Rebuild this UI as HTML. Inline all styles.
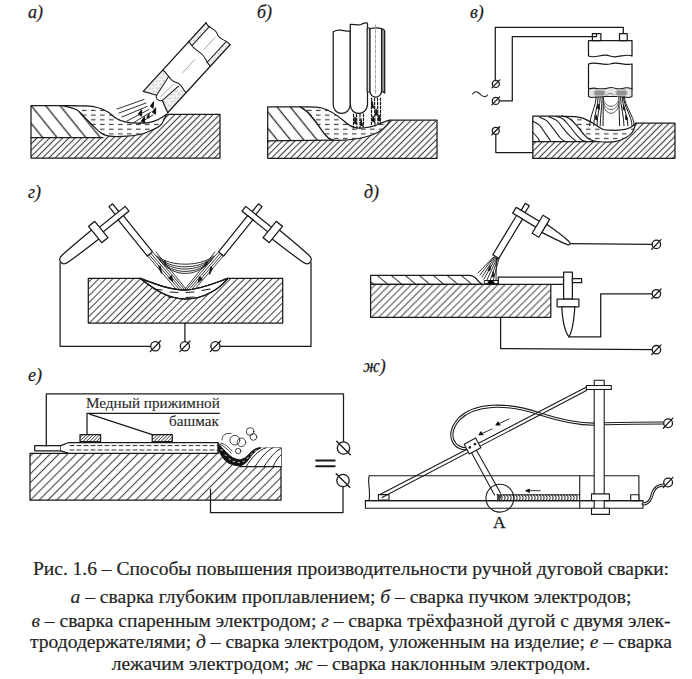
<!DOCTYPE html>
<html><head><meta charset="utf-8"><style>
html,body{margin:0;padding:0;background:#fff;width:692px;height:679px;overflow:hidden;position:relative}
.cap{position:absolute;left:1px;width:700px;text-align:center;font-family:"Liberation Serif",serif;font-size:19.55px;line-height:20px;color:#222;-webkit-text-stroke:0.2px #333;white-space:nowrap}
</style></head><body>
<svg width="692" height="545" viewBox="0 0 692 545" style="position:absolute;left:0;top:0">
<defs><pattern id="hA" patternUnits="userSpaceOnUse" width="4.5" height="40" patternTransform="rotate(45) translate(0,0)"><line x1="2.25" y1="-5" x2="2.25" y2="45" stroke="#3c3c3c" stroke-width="1.1"/></pattern><pattern id="hG" patternUnits="userSpaceOnUse" width="4.9" height="40" patternTransform="rotate(45) translate(0,0)"><line x1="2.45" y1="-5" x2="2.45" y2="45" stroke="#444" stroke-width="1.05"/></pattern><pattern id="hD" patternUnits="userSpaceOnUse" width="5.1" height="40" patternTransform="rotate(45) translate(0,0)"><line x1="2.55" y1="-5" x2="2.55" y2="45" stroke="#444" stroke-width="1.0"/></pattern><pattern id="hE" patternUnits="userSpaceOnUse" width="6.2" height="40" patternTransform="rotate(45) translate(0,0)"><line x1="3.1" y1="-5" x2="3.1" y2="45" stroke="#444" stroke-width="1.1"/></pattern><pattern id="hC" patternUnits="userSpaceOnUse" width="11.2" height="40" patternTransform="rotate(-39) translate(-3.0,0)"><line x1="5.6" y1="-5" x2="5.6" y2="45" stroke="#2a2a2a" stroke-width="1.3"/></pattern><pattern id="hCb" patternUnits="userSpaceOnUse" width="10.3" height="40" patternTransform="rotate(-39) translate(-1.35,0)"><line x1="5.15" y1="-5" x2="5.15" y2="45" stroke="#2a2a2a" stroke-width="1.3"/></pattern><pattern id="hC2" patternUnits="userSpaceOnUse" width="9" height="40" patternTransform="rotate(-50) translate(0,0)"><line x1="4.5" y1="-5" x2="4.5" y2="45" stroke="#333" stroke-width="1.05"/></pattern><pattern id="hS" patternUnits="userSpaceOnUse" width="2.4" height="40" patternTransform="rotate(45) translate(0,0)"><line x1="1.2" y1="-5" x2="1.2" y2="45" stroke="#1a1a1a" stroke-width="0.7"/></pattern><pattern id="dash" patternUnits="userSpaceOnUse" width="9" height="4.7"><line x1="1" y1="2.3" x2="5.6" y2="2.3" stroke="#444" stroke-width="1.2"/></pattern><pattern id="speck" patternUnits="userSpaceOnUse" width="5" height="5"><rect x="0" y="0" width="5" height="5" fill="#f2f2f2"/><rect x="1" y="1" width="1.2" height="1.2" fill="#aaa"/><rect x="3" y="3" width="1" height="1" fill="#bbb"/></pattern></defs>
<g fill="none" stroke="#1a1a1a" stroke-width="1.25" stroke-linejoin="round" stroke-linecap="round">
<path d="M31,137.6 L103,137.6 L108,135.9 C110.4,136.0 117.2,136.6 122.5,136.4 C127.8,136.2 135.2,135.5 140.0,134.5 C144.8,133.5 147.6,132.0 151.0,130.5 C154.4,129.0 157.9,128.0 160.5,125.3 C163.1,122.6 165.5,116.2 166.5,114.4 L220,114.3 L220,158 L31,158 Z" fill="url(#hA)" stroke="none"/>
<path d="M31,105.5 L61.5,105.5 C64.0,106.2 72.9,108.0 76.6,109.8 C80.3,111.6 80.8,113.6 83.5,116.2 C86.2,118.8 89.8,122.6 92.7,125.4 C95.6,128.2 98.5,131.2 101.0,133.0 C103.5,134.8 106.8,135.4 108.0,135.9 L103,137.6 L31,137.6 Z" fill="url(#hC)" stroke="none"/>
<path d="M61.5,105.5 C65.5,105.6 79.8,105.6 85.8,105.9 C91.8,106.2 93.7,106.5 97.4,107.5 C101.1,108.5 104.9,110.2 108.0,112.0 C111.1,113.8 113.2,116.7 116.0,118.3 C118.8,119.9 121.4,121.0 125.0,121.8 C128.6,122.6 133.5,123.1 137.7,123.2 C141.9,123.3 146.6,122.9 150.0,122.3 C153.4,121.7 155.2,120.8 158.0,119.5 C160.8,118.2 165.1,115.2 166.5,114.4 C165.5,116.2 163.1,122.6 160.5,125.3 C157.9,128.0 154.4,129.0 151.0,130.5 C147.6,132.0 144.8,133.5 140.0,134.5 C135.2,135.5 127.8,136.2 122.5,136.4 C117.2,136.6 111.6,136.5 108.0,135.9 C104.4,135.3 103.5,134.8 101.0,133.0 C98.5,131.2 95.6,128.2 92.7,125.4 C89.8,122.6 86.2,118.8 83.5,116.2 C80.8,113.6 80.3,111.6 76.6,109.8 C72.9,108.0 64.0,106.2 61.5,105.5 Z" fill="url(#dash)" stroke="none"/>
<path d="M31,105.5 L61.5,105.5 C65.5,105.6 79.8,105.6 85.8,105.9 C91.8,106.2 93.7,106.5 97.4,107.5 C101.1,108.5 104.9,110.2 108.0,112.0 C111.1,113.8 113.2,116.7 116.0,118.3 C118.8,119.9 121.4,121.0 125.0,121.8 C128.6,122.6 133.5,123.1 137.7,123.2 C141.9,123.3 146.6,122.9 150.0,122.3 C153.4,121.7 155.2,120.8 158.0,119.5 C160.8,118.2 165.1,115.2 166.5,114.4 L166.5,114.4 L220,114.3 L220,158 L31,158 Z"/>
<path d="M61.5,105.5 C64.0,106.2 72.9,108.0 76.6,109.8 C80.3,111.6 80.8,113.6 83.5,116.2 C86.2,118.8 89.8,122.6 92.7,125.4 C95.6,128.2 98.5,131.2 101.0,133.0 C103.5,134.8 104.4,135.3 108.0,135.9 C111.6,136.5 117.2,136.6 122.5,136.4 C127.8,136.2 135.2,135.5 140.0,134.5 C144.8,133.5 147.6,132.0 151.0,130.5 C154.4,129.0 157.9,128.0 160.5,125.3 C163.1,122.6 165.5,116.2 166.5,114.4"/>
<path d="M31,137.6 L103,137.6"/>
<g transform="translate(155.4,102.5) rotate(-47.5)">
<path d="M0,-16.5 L93,-16.5 C90,-11 96,-5 92,0 C89,5 95,10 93,16 L0.7,16 L6.2,3.8 C4,3 3,0 3.6,-0.7 C4,-3 5,-4 6.2,-4 Z" fill="#fff" stroke="none"/>
<path d="M0,-16.5 L6.2,-4 L28.5,-7.8 C26,-3 30,-12 28.9,-15.7 Z" fill="url(#speck)" stroke="none"/>
<path d="M0,-16.5 L28.9,-16.5 L28.5,-7.8 L6.2,-4 Z" fill="url(#speck)" stroke="none"/>
<path d="M0.7,16 L28.2,16 L27.6,6 L6.2,3.8 Z" fill="url(#speck)" stroke="none"/>
<path d="M65,-16.5 L93,-16.5 L93,-11.5 L66,-11.5 Z M63.9,11 L93,11 L93,16 L63.9,16 Z" fill="url(#speck)" stroke="none"/>
<path d="M0,-16.5 L93,-16.5 M0.7,16 L93,16 M0,-16.5 L6.2,-4 M6.2,3.8 L0.7,16"/>
<path d="M6.2,-4 C4,-3.5 3,-1 3.6,0 C4,2 5,3 6.2,3.8 L27.6,6 M6.2,-4 L28.5,-7.8" stroke-width="1"/>
<path d="M28.9,-16.5 C30,-10 25,-4 29,2 C32,8 27,12 28.2,16" stroke-width="1.1"/>
<path d="M67.5,-16.5 C66,-12 66,-6 67,0 C68,6 64,9 63.9,16 M67,-11.5 L93,-11.5 M64,11 L93,11" stroke-width="1"/>
<path d="M93,-16.5 C90,-11 96,-5 92,0 C89,5 95,10 93,16" stroke-width="1"/>
<path d="M8,0 L26,1 M40,0 L58,0 M72,0 L88,0" stroke="#999" stroke-width="0.8"/>
</g>
<path d="M117,109 L144,99.5 M119,113 L146,103 M122,117 L147,106.5 M127,121 L149,109.5 M133,123 L151,112 M138,124 L153,115" stroke-width="0.9"/>
<path d="M150.5,106 l3,-4 l-0.5,6 z M152.5,112 l3,-4 l0,6 z M138.5,114 l3,-4 l0,6 z M141.5,121 l3,-4 l0,6 z M147,117 l2,-3 l0,4z" fill="#000" stroke-width="1.2"/>
<path d="M267.7,140.9 L334,140.2 C345,140.5 360,139 372,135 C380,132 386,128 390,120.2 L437,120.2 L437,158.3 L267.7,158.3 Z" fill="url(#hA)" stroke="none"/>
<path d="M267.7,106.9 L300.2,106.9 C306,110 309,113 311.7,116.6 C315,120 317.5,124 319.8,127.4 C322,131 325,135 327.9,137.5 C330,139 332,140 334,140.2 C345,140.5 360,139 372,135 C380,132 386,128 390,120.2 L390,120.2 L437,120.2 L437,106.9 Z" fill="#fff" stroke="none"/>
<path d="M267.7,106.9 L300.2,106.9 C306,110 309,113 311.7,116.6 C315,120 317.5,124 319.8,127.4 C322,131 325,135 327.9,137.5 C330,139 332,140 334,140.2 L267.7,140.9 Z" fill="url(#hCb)" stroke="none"/>
<path d="M300.2,106.9 C312,106.5 318,107 322,108 C330,110 338,116 344,121 C348,125 352,127.6 358,128 C366,128.2 375,126 380,123.5 C384,122 387,120.5 390,120.2 C386,128 380,132 372,135 C360,139 345,140.5 334,140.2 C332,140 330,139 327.9,137.5 C325,135 322,131 319.8,127.4 C317.5,124 315,120 311.7,116.6 C309,113 306,110 300.2,106.9 Z" fill="url(#dash)" stroke="none"/>
<path d="M267.7,106.9 L300.2,106.9 C312,106.5 318,107 322,108 C330,110 338,116 344,121 C348,125 352,127.6 358,128 C366,128.2 375,126 380,123.5 C384,122 387,120.5 390,120.2 L437,120.2 L437,158.3 L267.7,158.3 Z"/>
<path d="M300.2,106.9 C306,110 309,113 311.7,116.6 C315,120 317.5,124 319.8,127.4 C322,131 325,135 327.9,137.5 C330,139 332,140 334,140.2 C345,140.5 360,139 372,135 C380,132 386,128 390,120.2"/>
<path d="M267.7,140.9 L334,140.2"/>
<path d="M333.2,31.7 C336,30 338,30 341,30.2 C344,30.5 346,31.5 350.3,31.2 L350.3,104 C350.3,110 346,113.4 341.7,113.4 C337,113.4 333.2,110 333.2,104 Z" fill="#fff"/>
<path d="M350.3,24.3 C354,24 358,25.5 361,24.5 C363,23 365,22.5 367.5,23 L367.5,104 C367.5,110 363,113.4 358.9,113.4 C354,113.4 350.3,110 350.3,104 Z" fill="#fff"/>
<path d="M367.5,28 L370,28 L370,92 L367.5,92 Z" fill="#ddd" stroke-width="0.9"/>
<path d="M370,28.5 C373,28 378,27.5 381.6,28.5 L381.6,91 C381.6,95 378,97.2 375.8,97.2 C373,97.2 370,95 370,91 Z" fill="#fff"/>
<path d="M381.6,28.5 C383,29 384.5,29.5 384.7,31 L384.7,93 L381.6,91 Z" fill="#999"/>
<path d="M375.5,25 L375.5,94" stroke="#999" stroke-width="0.9" stroke-dasharray="3,2"/>
<path d="M353.5,114 L353.5,128 M356.5,114 L357,129 M360,114 L360,129 M363.5,114 L363.5,127 M371.5,98 L371.5,125 M374.5,98 L375,126 M377.5,98 L378,125 M380.5,98 L380.5,123" stroke-width="1.2" stroke-dasharray="2.5,1.5"/>
<path d="M355,117 l1.5,7 l-2,-1z M361,119 l1.5,7 l-2,-1z M372,101 l1.5,7 l-2,-1z M376,109 l1.5,6 l-2,0z M373,116 l1.5,6 l-2,-1z M379,115 l1,6 l-2,-1z" fill="#000" stroke-width="1.2"/>
<path d="M532.8,141.6 L597.4,141.5 C600.3,141.5 609.9,142.3 614.6,141.7 C619.3,141.1 622.8,139.3 625.8,137.7 C628.8,136.1 630.8,134.4 632.5,132.0 C634.2,129.6 635.3,124.7 635.9,123.2 L675,123.2 L675,158.3 L532.8,158.3 Z" fill="url(#hA)" stroke="none"/>
<path d="M562,116.2 C564.2,116.3 571.4,116.2 575.0,116.6 C578.6,117.0 580.5,117.3 583.5,118.4 C586.5,119.5 589.4,121.2 592.7,123.0 C596.0,124.8 600.2,128.3 603.4,129.5 C606.6,130.7 609.0,130.1 612.0,130.2 C615.0,130.3 618.3,130.3 621.3,129.9 C624.3,129.5 627.6,128.9 630.0,127.8 C632.4,126.7 634.9,124.0 635.9,123.2 C635.3,124.7 634.2,129.6 632.5,132.0 C630.8,134.4 628.8,136.1 625.8,137.7 C622.8,139.3 619.3,141.1 614.6,141.7 C609.9,142.3 601.6,141.9 597.4,141.5 C593.2,141.1 591.6,140.4 589.3,139.2 C587.0,137.9 585.6,136.3 583.5,134.0 C581.4,131.7 579.1,128.0 576.6,125.3 C574.1,122.6 570.9,119.5 568.5,118.0 C566.1,116.5 563.1,116.5 562.0,116.2 Z" fill="url(#dash)" stroke="none"/>
<path d="M532.8,116.1 L562,116.2 C564.2,116.3 571.4,116.2 575.0,116.6 C578.6,117.0 580.5,117.3 583.5,118.4 C586.5,119.5 589.4,121.2 592.7,123.0 C596.0,124.8 600.2,128.3 603.4,129.5 C606.6,130.7 609.0,130.1 612.0,130.2 C615.0,130.3 618.3,130.3 621.3,129.9 C624.3,129.5 627.6,128.9 630.0,127.8 C632.4,126.7 634.9,124.0 635.9,123.2 L675,123.2 L675,158.3 L532.8,158.3 Z"/>
<path d="M562,116.2 C563.1,116.5 566.1,116.5 568.5,118.0 C570.9,119.5 574.1,122.6 576.6,125.3 C579.1,128.0 581.4,131.7 583.5,134.0 C585.6,136.3 587.0,137.9 589.3,139.2 C591.6,140.4 593.2,141.1 597.4,141.5 C601.6,141.9 609.9,142.3 614.6,141.7 C619.3,141.1 622.8,139.3 625.8,137.7 C628.8,136.1 630.8,134.4 632.5,132.0 C634.2,129.6 635.3,124.7 635.9,123.2"/>
<path d="M532.8,141.6 L597.4,141.5"/>
<path d="M532.8,121.3 C533.9,122.0 537.5,123.3 539.6,125.3 C541.7,127.3 543.4,130.7 545.3,133.4 C547.2,136.1 550.1,140.2 551.1,141.5 M539.6,117.2 C540.8,117.8 544.2,118.8 546.5,120.7 C548.8,122.6 551.1,125.9 553.4,128.8 C555.7,131.7 558.5,135.9 560.4,138.0 C562.3,140.1 564.2,140.9 565.0,141.5 M548.8,116.7 C550.1,117.4 554.6,118.9 556.9,120.7 C559.2,122.5 560.6,125.2 562.7,127.7 C564.8,130.2 567.3,133.4 569.6,135.7 C571.9,138.0 575.4,140.5 576.6,141.5 M556.0,116.5 C557.2,116.9 560.8,117.5 563.0,119.0 C565.2,120.5 567.0,123.2 569.0,125.5 C571.0,127.8 573.0,130.7 575.0,133.0 C577.0,135.3 579.2,138.1 581.0,139.5 C582.8,140.9 585.2,141.2 586.0,141.5 M532.8,132.3 C533.6,133.2 536.4,136.0 537.5,137.5 C538.6,139.0 539.2,140.8 539.6,141.5" stroke-width="1.05"/>
<path d="M588.5,40.5 L632,40.5 L632,56 C625,53 618,59 610,56 C602,53 596,59 588.5,56 Z" fill="#fff"/>
<path d="M588.5,64 C596,61 602,66 610,64 C618,61 625,66 632,64 L632,89 L588.5,89 Z" fill="#fff"/>
<path d="M588.5,89 C592,88 594,87.5 597,88.5 C601,89.5 604,89.5 608,88 C611,87 614,87.5 617,89 C620,89.5 623,88 626,87.8 C629,87.6 631,88.5 632,89 L632,96.5 L629,97.5 L618,96.5 L605,96.5 L591,97.5 L588.5,96.5 Z" fill="#e6e6e6" stroke-width="1.1"/>
<path d="M595,89 L604,89 L604,96.5 L595,96.5 Z M617,89 L626,89 L626,96.5 L617,96.5 Z" fill="#bbb" stroke="none"/>
<path d="M594,92 L605,92 M594,94 L605,94 M616,92 L627,92 M616,94 L627,94" stroke="#555" stroke-width="0.8"/>
<path d="M606,95.5 C608,93 612,92.5 614,95" stroke="#666" stroke-width="0.8"/>
<path d="M592.4,33.5 L600.9,33.5 L600.9,40.5 L592.4,40.5 Z M619.5,33.5 L627.2,33.5 L627.2,40.5 L619.5,40.5 Z" fill="#fff"/>
<path d="M596.1,96.8 C596.1,106 589.7,116 589.7,125.7 M598.2,96.8 C598.2,106 593.7,116 593.7,125.7 M600.2,96.8 C600.2,106 597.0,116 597.0,125.7 M602.2,96.8 C602.2,106 600.2,116 600.2,125.7 M603.4,96.8 C603.4,106 603.0,116 603.0,125.7 M618.8,96.8 C618.8,106 619.6,116 619.6,125.7 M620.5,96.8 C620.5,106 624.0,116 624.0,125.7 M622.2,96.8 C622.2,106 628.0,116 628.0,125.7 M623.5,96.8 C623.5,106 632.0,116 632.0,125.7 M624.5,96.8 C624.5,106 634.2,116 634.2,125.7" stroke-width="1"/>
<path d="M603.5,100 C606,108.5 616,108.5 618.8,100 M603.5,102.5 C606,112 616,112 618.8,102.5 M603.5,105.5 C606,116 616,116 618.8,105.5" stroke-width="0.9" stroke="#444"/>
<path d="M598,104 l1.5,5 l-2,-1z M596,115 l1.5,5 l-2,-1z M623.5,105 l1.5,5 l-2,-1z M626,115 l1.5,5 l-2,-1z" fill="#000" stroke-width="1.1"/>
<path d="M623.3,33.5 L623.3,27.3 L495.3,27.3 L495.3,80 M596.5,33.5 L596.5,36.6 L512.3,36.6 L512.3,100.9 L499,100.9 M495.8,134.5 L495.8,152.5 L532.8,152.5"/>
<circle cx="495.8" cy="83.9" r="3.5" fill="#fff" stroke="#1a1a1a" stroke-width="1.3"/><line x1="491.9" y1="87.9" x2="499.7" y2="79.9" stroke="#1a1a1a" stroke-width="1.3"/><circle cx="495.8" cy="100.9" r="3.5" fill="#fff" stroke="#1a1a1a" stroke-width="1.3"/><line x1="491.9" y1="104.9" x2="499.7" y2="96.9" stroke="#1a1a1a" stroke-width="1.3"/><circle cx="495.8" cy="130.8" r="3.5" fill="#fff" stroke="#1a1a1a" stroke-width="1.3"/><line x1="491.9" y1="134.8" x2="499.7" y2="126.8" stroke="#1a1a1a" stroke-width="1.3"/>
<path d="M472.6,94 C475,91 477,91 480,94 C483,97.5 486,97.5 487.5,95" stroke-width="1.1"/>
<path d="M88.3,278.3 L140,278.3 C155,284 170,290 185,290 C200,290 215,283 228,278.3 L282.7,278.3 L282.7,323 L88.3,323 Z" fill="url(#hG)"/>
<path d="M140,278.3 C155,284 170,290 185,290 C200,290 215,283 228,278.3 C220,288 205,299 186,299 C168,299 155,290 140,278.3 Z" fill="#fff"/>
<path d="M154,289 L162,290 M170,292 L178,292.5 M186,292.5 L194,292 M202,290.5 L210,289 M168,297 L176,297.5 M186,297.5 L194,297" stroke-width="1.1"/>
<path d="M140,278.3 C155,284 170,290 185,290 C200,290 215,283 228,278.3 C220,288 205,299 186,299 C168,299 155,290 140,278.3"/>
<path d="M60.1,262.7 L60.1,346.3 L150.5,346.3 M220,346.3 L311,346.3 L311,262.7 M184.9,323 L184.9,341.5"/>
<circle cx="155.3" cy="346.3" r="4.6" fill="#fff" stroke="#1a1a1a" stroke-width="1.3"/><line x1="150.2" y1="351.6" x2="160.4" y2="341.0" stroke="#1a1a1a" stroke-width="1.3"/><circle cx="184.9" cy="346.3" r="4.6" fill="#fff" stroke="#1a1a1a" stroke-width="1.3"/><line x1="179.8" y1="351.6" x2="190.0" y2="341.0" stroke="#1a1a1a" stroke-width="1.3"/><circle cx="215.4" cy="346.3" r="4.6" fill="#fff" stroke="#1a1a1a" stroke-width="1.3"/><line x1="210.3" y1="351.6" x2="220.5" y2="341.0" stroke="#1a1a1a" stroke-width="1.3"/>
<g transform="translate(118.9,215.4) rotate(141.2)"><rect x="-2.3" y="2.5" width="4.6" height="10.5" fill="#fff"/><rect x="-10.5" y="-3" width="37" height="6" fill="#fff"/><path d="M30,-5.8 C45,-5.6 60,-5.2 69,-4.6 C76.5,-4 76.5,4 69,4.6 C60,5.2 45,5.6 30,5.8 Z" fill="#fff"/><rect x="22.5" y="-10.5" width="8" height="21" fill="#fff"/><rect x="-3.3" y="-49.5" width="6.6" height="46.5" fill="#fff"/></g>
<g transform="translate(371,0) scale(-1,1)"><g transform="translate(118.9,215.4) rotate(141.2)"><rect x="-2.3" y="2.5" width="4.6" height="10.5" fill="#fff"/><rect x="-10.5" y="-3" width="37" height="6" fill="#fff"/><path d="M30,-5.8 C45,-5.6 60,-5.2 69,-4.6 C76.5,-4 76.5,4 69,4.6 C60,5.2 45,5.6 30,5.8 Z" fill="#fff"/><rect x="22.5" y="-10.5" width="8" height="21" fill="#fff"/><rect x="-3.3" y="-49.5" width="6.6" height="46.5" fill="#fff"/></g></g>
<path d="M157,256 C170,267 200,267 214,256 M158,257.5 C171,270 199,270 213,257.5 M159,259 C172,272.5 198,272.5 212,259 M160,261 C174,275 196,275 211,261 M162,263 C175,277 195,277 209,263" stroke-width="0.9"/>
<path d="M146,254 L176,289 M148.5,254 L179,289 M151,253.5 L181.5,289 M153.5,253 L184,289 M156,252 L186,289 M225,254 L195,289 M222.5,254 L192,289 M220,253.5 L189.5,289 M217.5,253 L187,289 M215,252 L185,289" stroke-width="0.85"/>
<path d="M159,267 l2.5,6 l-1.5,-7z M169,278 l3.5,3 l-1,-5z M212,269 l-2.5,5 l1.5,-7z M202,279 l-3.5,3 l1,-5z M164,262 l2,3 l-1,-4z M207,263 l-2,3 l1,-4z" fill="#000" stroke-width="1.3"/>
<rect x="370.6" y="284.3" width="180.2" height="33" fill="url(#hD)"/>
<path d="M370.6,275.3 L469,275.3 C473,275.5 475,277 477,279.5 C478.5,281.5 480,283.5 482.5,284.3 L370.6,284.3 Z" fill="url(#hC2)"/>
<path d="M498.3,277 L563.6,277 L563.6,284.3 L498.3,284.3 Z" fill="#fff"/>
<path d="M500.6,317.3 L500.6,348.6 L652,349.7 M569,336.9 L600.7,336.9 L600.7,293.9 L652,293.8 M569.4,243.6 L652,244.4"/>
<circle cx="656.4" cy="244.4" r="4.2" fill="#fff" stroke="#1a1a1a" stroke-width="1.3"/><line x1="651.8" y1="249.2" x2="661.0" y2="239.6" stroke="#1a1a1a" stroke-width="1.3"/><circle cx="656.4" cy="293.8" r="4.2" fill="#fff" stroke="#1a1a1a" stroke-width="1.3"/><line x1="651.8" y1="298.6" x2="661.0" y2="289.0" stroke="#1a1a1a" stroke-width="1.3"/><circle cx="656.4" cy="349.7" r="4.2" fill="#fff" stroke="#1a1a1a" stroke-width="1.3"/><line x1="651.8" y1="354.5" x2="661.0" y2="344.9" stroke="#1a1a1a" stroke-width="1.3"/>
<rect x="563.6" y="272.1" width="8.8" height="27" fill="#fff"/>
<rect x="572.4" y="278.6" width="9.2" height="4.1" fill="#fff"/>
<rect x="557.1" y="299.2" width="21.8" height="7.6" fill="#fff"/>
<path d="M561.8,306.8 C562.5,320 565,332 568.9,336.9 C572,332 574,320 574.8,306.8 Z" fill="#fff"/>
<g transform="translate(521.3,214.4) rotate(31.2)"><rect x="-2.3" y="-11.6" width="4.6" height="8.3" fill="#fff"/><rect x="-8" y="-3.4" width="27.5" height="6.8" fill="#fff"/><path d="M26.8,-4.8 C38,-4 50,-3 55,-1.5 C58,-0.5 58,1 55,2 C50,3 38,4 26.8,4.8 Z" fill="#fff"/><rect x="19" y="-10.5" width="7.8" height="21" fill="#fff"/><rect x="-3.5" y="3.4" width="7" height="45.9" fill="#fff"/></g>
<path d="M494,257 L480,275 M495,257 L482,277 M496,257.5 L484,279 M497,258 L487,280 M498,258 L490,281 M499,258.5 L493,281 M496.5,258 L496,281 M493.5,257 L478,273" stroke-width="0.9"/>
<path d="M490,266 l-2,5 l2,-1z M493,272 l-1,5 l2,-1z" fill="#000" stroke-width="1"/>
<path d="M484.7,280.5 L498,280.5 L498,283.6 L484.7,283.6 Z" fill="#fff" stroke-width="1"/>
<ellipse cx="491" cy="282.3" rx="3.5" ry="1.6" fill="#000" stroke="none"/>
<path d="M30,453.4 L218,453.4 L217.6,446.7 C219,451 221,455 223,457.5 C226,461 229,463.5 231.7,464 C235,465.5 238,465.8 240.3,465.6 C243,465 245,463.5 246.8,461.8 C249,459 251,456 253.4,453.2 C256,450.5 258,449 261,448.3 L281,447.8 L281,500.2 L30,500.2 Z" fill="url(#hE)"/>
<path d="M241,466.7 L281,466.7 L281,447.8 L261,447.8 C256,449 251,455 246,462 Z" fill="#fff" stroke="none"/>
<path d="M281,466.7 L240,466.7"/>
<path d="M246,466.5 C252,458 258,450 266,447.8 M255,466.5 C261,458 267,450 273,447.8 M264,466.5 C270,458 275,451 281,448.5 M273,466.5 C276,461 278,457 281,455" stroke-width="1"/>
<path d="M217.6,442.3 C220,446 223,449 226.3,452.1 C229,455 232,458 235,458.6 C237,459.5 239,459.8 240.3,459.7 C243,459 245,458 246.8,456.4 C249,454 251,452 252.3,451 C254,449.5 256,448.4 258.8,447.8 L261,447.8 C258,449 256,450.5 253.4,453.2 C251,456 249,459 246.8,461.8 C245,463.5 243,465 240.3,465.6 C238,465.8 235,465.5 231.7,464 C229,463.5 226,461 223,457.5 C221,455 219,451 217.6,446.7 Z" fill="#111" stroke-width="1"/>
<path d="M221,450 l1.5,0 M225,455 l1.5,0.5 M229,459 l1.5,0.5 M233,461.5 l1.5,0 M238,462.5 l1.5,0 M243,461.5 l1.5,-0.5 M247,458.5 l1.2,-1 M251,454.5 l1.2,-1 M255,451 l1.2,-0.8" stroke="#999" stroke-width="1.3"/>
<rect x="34.7" y="445.6" width="26" height="5.3" fill="#fff"/>
<path d="M60.8,445.6 L68.9,442.5 L218,442.5 L218,453.4 L68.9,453.4 L60.8,450.9" fill="#fff"/>
<path d="M70,445.6 L218,445.6 M70,450 L218,450" stroke-width="0.9" stroke-dasharray="4,3"/>
<rect x="80" y="434.7" width="20.6" height="6.9" fill="url(#hS)"/>
<rect x="152.2" y="434.7" width="20.1" height="6.9" fill="url(#hS)"/>
<path d="M87,413.4 L87,434.7 M89.7,414.2 L152.2,434.7 M87,413.3 L219.4,413.3"/>
<path d="M46.3,446 L46.3,393.8 L343.5,393.8 L343.5,441.3 M343,487 L343,512.7 L210.5,512.7 L210.5,489"/>
<circle cx="343.5" cy="448" r="6.2" fill="#fff" stroke="#1a1a1a" stroke-width="1.3"/><line x1="336.7" y1="441.2" x2="350.3" y2="454.8" stroke="#1a1a1a" stroke-width="1.3"/><circle cx="343" cy="480.5" r="6.2" fill="#fff" stroke="#1a1a1a" stroke-width="1.3"/><line x1="336.2" y1="473.7" x2="349.8" y2="487.3" stroke="#1a1a1a" stroke-width="1.3"/>
<path d="M316.2,460.4 L334.7,460.4 M316.2,466.3 L334.7,466.3" stroke-width="2"/>
<circle cx="234.9" cy="440.2" r="4.9" stroke-width="0.8"/><circle cx="241.4" cy="442.3" r="4.3" stroke-width="0.8"/><circle cx="238.2" cy="451" r="2.7" stroke-width="0.8"/><circle cx="250.1" cy="431.5" r="3.8" stroke-width="0.8"/><circle cx="253.4" cy="436.9" r="3.4" stroke-width="0.8"/>
<path d="M222,440 C222,434 227,433 231,433.5 M220,444 C224,446 228,450 231,453 M221,443 C226,444 229,448 232,451" stroke-width="0.8"/>
<g stroke-width="1.1">
<path d="M468,449 C452,449 446,434 459,419 C474,404 505,402 540,414 C565,422 585,425 600,424 C620,423 640,423 663,423" stroke-width="3.2"/>
<path d="M468,449 C452,449 446,434 459,419 C474,404 505,402 540,414 C565,422 585,425 600,424 C620,423 640,423 663,423" stroke="#fff" stroke-width="1.1"/>
<rect x="365.4" y="500.7" width="277.6" height="7.5"/>
<path d="M369.3,475.7 L638.9,475.7 L638.9,500.7 M369.3,475.7 C367,482 371,490 369,500.7 M579.7,475.7 L579.7,507.8"/>
<rect x="378.4" y="494.6" width="10.6" height="5.5" fill="#fff"/>
<rect x="630.7" y="494.7" width="8.2" height="6" fill="#fff"/>
<path d="M497.5,494.9 C499.7,496 499.7,499.6 497.5,500.7 M500.5,494.9 C502.7,496 502.7,499.6 500.5,500.7 M503.5,494.9 C505.7,496 505.7,499.6 503.5,500.7 M506.5,494.9 C508.7,496 508.7,499.6 506.5,500.7 M509.5,494.9 C511.7,496 511.7,499.6 509.5,500.7 M512.5,494.9 C514.7,496 514.7,499.6 512.5,500.7 M515.5,494.9 C517.7,496 517.7,499.6 515.5,500.7 M518.5,494.9 C520.7,496 520.7,499.6 518.5,500.7 M521.5,494.9 C523.7,496 523.7,499.6 521.5,500.7 M524.5,494.9 C526.7,496 526.7,499.6 524.5,500.7 M527.5,494.9 C529.7,496 529.7,499.6 527.5,500.7 M530.5,494.9 C532.7,496 532.7,499.6 530.5,500.7 M533.5,494.9 C535.7,496 535.7,499.6 533.5,500.7 M536.5,494.9 C538.7,496 538.7,499.6 536.5,500.7 M539.5,494.9 C541.7,496 541.7,499.6 539.5,500.7 M542.5,494.9 C544.7,496 544.7,499.6 542.5,500.7 M545.5,494.9 C547.7,496 547.7,499.6 545.5,500.7 M548.5,494.9 C550.7,496 550.7,499.6 548.5,500.7 M551.5,494.9 C553.7,496 553.7,499.6 551.5,500.7 M554.5,494.9 C556.7,496 556.7,499.6 554.5,500.7 M557.5,494.9 C559.7,496 559.7,499.6 557.5,500.7 M560.5,494.9 C562.7,496 562.7,499.6 560.5,500.7 M563.5,494.9 C565.7,496 565.7,499.6 563.5,500.7 M566.5,494.9 C568.7,496 568.7,499.6 566.5,500.7 M569.5,494.9 C571.7,496 571.7,499.6 569.5,500.7 M572.5,494.9 C574.7,496 574.7,499.6 572.5,500.7 M575.5,494.9 C577.7,496 577.7,499.6 575.5,500.7" stroke-width="1.1" stroke="#333"/>
<path d="M497,494.8 L579.7,494.8" stroke-width="1"/>
<path d="M497,495 L502,495 L500,500 L497,500 Z" fill="#444" stroke="none"/>
<path d="M380,494.5 L586.5,387 M382,497.5 L586.5,390.5" stroke-width="1.05"/>
<rect x="594.2" y="380.3" width="10" height="134.1" fill="#fff"/>
<rect x="586.3" y="385.5" width="25" height="4" fill="#fff"/>
<rect x="591.5" y="493.9" width="17.9" height="6.8" fill="#fff"/>
<rect x="591.5" y="508.2" width="17.9" height="6.2" fill="#fff"/>
<path d="M604.2,500.7 L643,500.7 M594.2,500.7 L365.4,500.7" stroke-width="1.2"/>
<path d="M470,450 L494.5,495 M475.5,448.5 L500.5,493" stroke-width="1.05"/>
<g transform="translate(472.5,446) rotate(-28)"><rect x="-6.5" y="-5.5" width="13" height="11" fill="#fff"/><circle cx="-3" cy="0" r="0.8" fill="#000"/><circle cx="3" cy="-0.5" r="0.8" fill="#000"/></g>
<circle cx="668.1" cy="423.2" r="4.4" fill="#fff" stroke="#1a1a1a" stroke-width="1.3"/><line x1="663.3" y1="428.3" x2="672.9" y2="418.1" stroke="#1a1a1a" stroke-width="1.3"/><circle cx="668.1" cy="482.5" r="4.4" fill="#fff" stroke="#1a1a1a" stroke-width="1.3"/><line x1="663.3" y1="487.6" x2="672.9" y2="477.4" stroke="#1a1a1a" stroke-width="1.3"/>
<path d="M643,504 C650,504 651,498 653,492 C655,487 659,485 664,485" stroke-width="3"/>
<path d="M643,504 C650,504 651,498 653,492 C655,487 659,485 664,485" stroke="#fff" stroke-width="1"/>
<circle cx="499.9" cy="498.2" r="13.9"/>
<path d="M480,434.5 L492,429 M497,424.5 L509,419 M527,490.7 L540.2,490.7" stroke-width="0.9"/>
<path d="M479,434.8 l4,0 l-2,-3z M496,425 l4,0 l-2,-3z M525.8,490.7 l3.5,-1.5 l0,3z" fill="#000"/>
</g>
</g>
<text x="28" y="18.4" font-family="Liberation Serif" font-style="italic" font-size="18" fill="#222" stroke="#222" stroke-width="0.25">а)</text>
<text x="257" y="17.6" font-family="Liberation Serif" font-style="italic" font-size="18" fill="#222" stroke="#222" stroke-width="0.25">б)</text>
<text x="470" y="17.6" font-family="Liberation Serif" font-style="italic" font-size="18" fill="#222" stroke="#222" stroke-width="0.25">в)</text>
<text x="28" y="197.8" font-family="Liberation Serif" font-style="italic" font-size="18" fill="#222" stroke="#222" stroke-width="0.25">г)</text>
<text x="364" y="197.8" font-family="Liberation Serif" font-style="italic" font-size="18" fill="#222" stroke="#222" stroke-width="0.25">д)</text>
<text x="28" y="381.3" font-family="Liberation Serif" font-style="italic" font-size="18" fill="#222" stroke="#222" stroke-width="0.25">е)</text>
<text x="363" y="372" font-family="Liberation Serif" font-style="italic" font-size="18" fill="#222" stroke="#222" stroke-width="0.25">ж)</text>
<text x="86" y="408" font-family="Liberation Serif" font-size="15.2" fill="#2a2a2a" stroke="#2a2a2a" stroke-width="0.12">Медный прижимной</text>
<text x="169" y="425.5" font-family="Liberation Serif" font-size="15.2" fill="#2a2a2a" stroke="#2a2a2a" stroke-width="0.12">башмак</text>
<text x="493" y="527.5" font-family="Liberation Serif" font-size="17.5" fill="#1a1a1a" stroke="#1a1a1a" stroke-width="0.25">А</text>
</svg>

<div class="cap" style="top:559px;letter-spacing:-0.03px">Рис. 1.6 – Способы повышения производительности ручной дуговой сварки:</div>
<div class="cap" style="top:587px;"><i>а</i> – сварка глубоким проплавлением; <i>б</i> – сварка пучком электродов;</div>
<div class="cap" style="top:610.5px;"><i>в</i> – сварка спаренным электродом; <i>г</i> – сварка трёхфазной дугой с двумя элек-</div>
<div class="cap" style="top:631.5px;">трододержателями; <i>д</i> – сварка электродом, уложенным на изделие; <i>е</i> – сварка</div>
<div class="cap" style="top:653.5px;">лежачим электродом; <i>ж</i> – сварка наклонным электродом.</div>

</body></html>
